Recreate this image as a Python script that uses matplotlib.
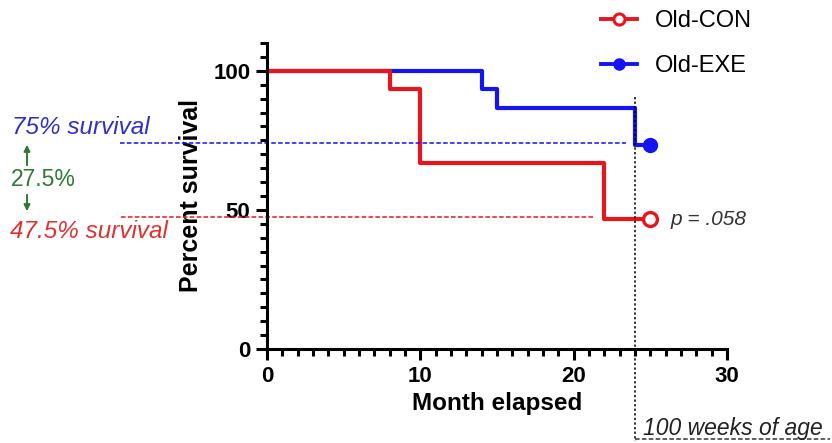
import matplotlib
matplotlib.use('Agg')
import matplotlib.pyplot as plt
from matplotlib.ticker import MultipleLocator

plt.rcParams['font.family'] = ['Liberation Sans', 'DejaVu Sans']

# Kaplan-Meier steps (months, percent survival)
con_months = [0, 8, 10, 22, 25]
con_surv = [100, 93.3, 66.7, 46.7, 46.7]
exe_months = [0, 14, 15, 24, 25]
exe_surv = [100, 93.3, 86.7, 73.3, 73.3]

ref_levels = [74, 47.5]          # blue / red guide lines
ref_month = 24                   # 100 weeks of age
x_ticks = [0, 10, 20, 30]
y_ticks = [0, 50, 100]

red = '#e8161c'
blue = '#1414f0'
green = '#2f7a32'

W, H = 832, 443
fig = plt.figure(figsize=(W / 100, H / 100), dpi=100)
ax = fig.add_axes([267 / W, (H - 349) / H, 460 / W, 306 / H])


def px(x, y):
    # pixel from top-left -> figure fraction
    return x / W, 1 - y / H


# blue first so red sits on top along the shared 100% segment
ax.step(exe_months, exe_surv, where='post', color=blue, lw=3, label='Old-EXE')
ax.step(con_months, con_surv, where='post', color=red, lw=3, label='Old-CON')
ax.plot(con_months[-1], con_surv[-1], 'o', ms=10, mfc='white', mec=red, mew=2.4, clip_on=False)
ax.plot(exe_months[-1], exe_surv[-1], 'o', ms=10, color=blue, clip_on=False)

# legend handles with marker in the middle
h1, = ax.plot([], [], color=red, lw=2.8, marker='o', ms=8, mfc='white', mec=red, mew=2.2)
h2, = ax.plot([], [], color=blue, lw=2.8, marker='o', ms=8)
fig.legend([h1, h2], ['Old-CON', 'Old-EXE'], loc='upper left',
           bbox_to_anchor=px(592, 1), frameon=False, fontsize=17,
           handlelength=1.5, handletextpad=0.75, labelspacing=0.95,
           borderaxespad=0, numpoints=1)

# guide lines
ax.plot([-9.6, 23.4], [ref_levels[0]] * 2, ls=(0, (3, 1.5)), lw=1.1, color=blue, clip_on=False)
ax.plot([-9.5, 21.3], [ref_levels[1]] * 2, ls=(0, (3, 1.5)), lw=1.1, color=red, clip_on=False)
ax.plot([ref_month, ref_month], [90.5, -33], ls=(0, (1.5, 1.5)), lw=1.1, color='black', clip_on=False)
ax.plot([ref_month, 36.7], [-32.3, -32.3], ls=(0, (3, 1.5)), lw=1.1, color='#333333', clip_on=False)

ax.text(24.5, -28.5, '100 weeks of age', fontsize=16.5, style='italic', color='#222222',
        va='center', ha='left', clip_on=False)
ax.text(26.3, con_surv[-1], 'p = .058', fontsize=15, style='italic', color='#333333',
        va='center', ha='left')

fig.text(*px(12, 127), '75% survival', fontsize=17.5, style='italic', color='#3030c8', va='center')
fig.text(*px(11, 180), '27.5%', fontsize=16.5, color=green, va='center')
fig.text(*px(10, 232), '47.5% survival', fontsize=17.5, style='italic', color='#e03030', va='center')
ax.annotate('', xy=px(27, 142), xytext=px(27, 168), xycoords='figure fraction',
            textcoords='figure fraction',
            arrowprops=dict(arrowstyle='-|>', color=green, lw=1.4, mutation_scale=9))
ax.annotate('', xy=px(27, 214), xytext=px(27, 192), xycoords='figure fraction',
            textcoords='figure fraction',
            arrowprops=dict(arrowstyle='-|>', color=green, lw=1.4, mutation_scale=9))

# axes styling
ax.set_xlim(0, 30)
ax.set_ylim(0, 110)
for s in ['top', 'right']:
    ax.spines[s].set_visible(False)
for s in ['left', 'bottom']:
    ax.spines[s].set_linewidth(2.2)
ax.set_xticks(x_ticks)
ax.set_yticks(y_ticks)
ax.xaxis.set_minor_locator(MultipleLocator(1))
ax.yaxis.set_minor_locator(MultipleLocator(5))
ax.tick_params(which='major', direction='out', length=8, width=2.2, labelsize=16, pad=4)
ax.tick_params(which='minor', direction='out', length=5, width=2.2)
for lbl in ax.get_xticklabels() + ax.get_yticklabels():
    lbl.set_fontweight('bold')
ax.set_xlabel('Month elapsed', fontsize=17.5, fontweight='bold', labelpad=4)
ax.set_ylabel('Percent survival', fontsize=18, fontweight='bold', labelpad=7)

fig.savefig('out.png', dpi=100)
